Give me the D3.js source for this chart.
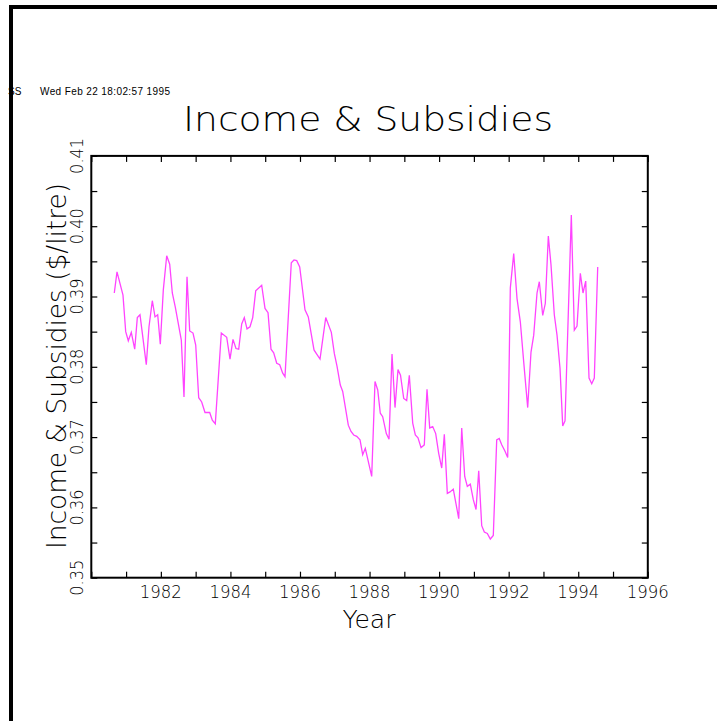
<!DOCTYPE html>
<html><head><meta charset="utf-8">
<script src="https://cdn.jsdelivr.net/npm/d3@7"></script>
<style>body{margin:0;background:#fff}svg{display:block}</style>
</head><body>
<svg id="c" width="717" height="721"></svg>
<script>
// ---- data ----
const years = [1980.661,1980.739,1980.911,1980.989,1981.064,1981.150,1981.248,1981.323,1981.400,1981.581,
1981.659,1981.754,1981.832,1981.909,1981.984,1982.070,1982.168,1982.254,1982.329,1982.415,
1982.588,1982.665,1982.752,1982.829,1982.924,1983.002,1983.088,1983.174,1983.269,1983.404,
1983.479,1983.565,1983.738,1983.893,1983.988,1984.074,1984.160,1984.238,1984.324,1984.399,
1984.477,1984.563,1984.641,1984.727,1984.899,1984.994,1985.081,1985.167,1985.244,1985.331,
1985.417,1985.503,1985.569,1985.750,1985.828,1985.906,1985.992,1986.144,1986.239,1986.403,
1986.481,1986.576,1986.740,1986.901,1986.987,1987.064,1987.159,1987.228,1987.389,1987.467,
1987.545,1987.631,1987.726,1987.803,1987.878,1988.062,1988.157,1988.235,1988.309,1988.378,
1988.482,1988.560,1988.646,1988.732,1988.818,1988.890,1988.982,1989.068,1989.143,1989.241,
1989.316,1989.393,1989.480,1989.574,1989.652,1989.730,1989.816,1989.902,1989.988,1990.075,
1990.150,1990.236,1990.313,1990.408,1990.486,1990.564,1990.650,1990.736,1990.811,1990.897,
1990.983,1991.061,1991.139,1991.225,1991.300,1991.386,1991.472,1991.558,1991.656,1991.728,
1991.800,1991.895,1991.972,1992.047,1992.145,1992.240,1992.335,1992.432,1992.547,1992.642,
1992.720,1992.815,1992.881,1992.979,1993.053,1993.140,1993.217,1993.312,1993.390,1993.476,
1993.554,1993.620,1993.801,1993.887,1993.965,1994.060,1994.137,1994.215,1994.310,1994.388,
1994.462,1994.560];
const values = [0.3905,0.3935,0.3902,0.3850,0.3837,0.3849,0.3825,0.3870,0.3874,0.3803,
0.3857,0.3894,0.3871,0.3874,0.3832,0.3909,0.3958,0.3946,0.3905,0.3885,
0.3838,0.3757,0.3928,0.3851,0.3848,0.3831,0.3756,0.3750,0.3735,0.3735,
0.3724,0.3719,0.3848,0.3842,0.3811,0.3839,0.3826,0.3825,0.3861,0.3870,
0.3854,0.3857,0.3870,0.3908,0.3916,0.3883,0.3877,0.3825,0.3820,0.3805,
0.3803,0.3791,0.3786,0.3948,0.3952,0.3951,0.3942,0.3881,0.3871,0.3824,
0.3818,0.3811,0.3870,0.3849,0.3819,0.3801,0.3774,0.3765,0.3717,0.3708,
0.3703,0.3701,0.3696,0.3675,0.3684,0.3644,0.3779,0.3767,0.3734,0.3729,
0.3705,0.3697,0.3818,0.3742,0.3796,0.3788,0.3755,0.3752,0.3788,0.3720,
0.3703,0.3699,0.3685,0.3689,0.3768,0.3713,0.3715,0.3705,0.3677,0.3656,
0.3704,0.3620,0.3622,0.3626,0.3605,0.3584,0.3713,0.3644,0.3630,0.3633,
0.3611,0.3597,0.3652,0.3574,0.3565,0.3563,0.3555,0.3560,0.3696,0.3698,
0.3689,0.3680,0.3671,0.3912,0.3961,0.3897,0.3864,0.3807,0.3742,0.3821,
0.3845,0.3905,0.3921,0.3873,0.3890,0.3986,0.3945,0.3874,0.3845,0.3798,
0.3716,0.3723,0.4016,0.3852,0.3858,0.3933,0.3905,0.3922,0.3784,0.3776,
0.3784,0.3942];
const xTicks = [1980,1981,1982,1983,1984,1985,1986,1987,1988,1989,1990,1991,1992,1993,1994,1995,1996];
const xLabels = [1982,1984,1986,1988,1990,1992,1994,1996];
const yTicks = [0.35,0.355,0.36,0.365,0.37,0.375,0.38,0.385,0.39,0.395,0.40,0.405,0.41];
const yLabels = ["0.35","0.36","0.37","0.38","0.39","0.40","0.41"];
const titleText = "Income & Subsidies";
const xTitle = "Year";
const yTitle = "Income & Subsidies ($/litre)";
const stamp = "Wed Feb 22 18:02:57 1995";

// ---- drawing ----
const svg = d3.select("#c");
const FONT = "'DejaVu Sans', sans-serif";
const L = 91.3, R = 647.8, T = 155.9, B = 577.7;
const x = d3.scaleLinear().domain([1980, 1996]).range([L, R]);
const y = d3.scaleLinear().domain([0.35, 0.41]).range([B, T]);

svg.append("rect").attr("width",717).attr("height",721).attr("fill","#fff");

// header stamp
svg.append("text").attr("x",8).attr("y",95).attr("font-family","'Liberation Sans', Arial, sans-serif")
  .attr("font-size",10).attr("fill","#000").text("SS");
svg.append("text").attr("x",40).attr("y",95).attr("font-family","'Liberation Sans', Arial, sans-serif")
  .attr("font-size",10).attr("fill","#000").attr("textLength",130).text(stamp);

// outer frame lines
svg.append("rect").attr("x",9).attr("y",5).attr("width",708).attr("height",4).attr("fill","#000");
svg.append("rect").attr("x",9).attr("y",5).attr("width",4).attr("height",716).attr("fill","#000");

// ticks (inward, all four sides)
const tickLen = 6;
const axB = svg.append("g").attr("transform",`translate(0,${B})`)
  .call(d3.axisBottom(x).tickValues(xTicks).tickSize(-tickLen).tickFormat(""));
const axT = svg.append("g").attr("transform",`translate(0,${T})`)
  .call(d3.axisTop(x).tickValues(xTicks).tickSize(-tickLen).tickFormat(""));
const axL = svg.append("g").attr("transform",`translate(${L},0)`)
  .call(d3.axisLeft(y).tickValues(yTicks).tickSize(-tickLen).tickFormat(""));
const axR = svg.append("g").attr("transform",`translate(${R},0)`)
  .call(d3.axisRight(y).tickValues(yTicks).tickSize(-tickLen).tickFormat(""));
[axB,axT,axL,axR].forEach(g=>{
  g.select(".domain").remove();
  g.selectAll(".tick line").attr("stroke","#000").attr("stroke-width",1.2);
});

// x tick labels
svg.append("g").selectAll("text").data(xLabels).join("text")
  .attr("x",d=>x(d)).attr("y",598).attr("text-anchor","middle")
  .attr("font-family",FONT).attr("font-weight",200).attr("font-size",17)
  .attr("textLength",42).attr("lengthAdjust","spacingAndGlyphs")
  .attr("fill","#000").text(d=>d);

// y tick labels (rotated)
svg.append("g").selectAll("text").data(yLabels).join("text")
  .attr("transform",d=>`translate(83,${y(+d)}) rotate(-90)`)
  .attr("text-anchor","middle")
  .attr("font-family",FONT).attr("font-weight",200).attr("font-size",17)
  .attr("textLength",36).attr("lengthAdjust","spacingAndGlyphs")
  .attr("fill","#000").text(d=>d);

// line
const line = d3.line().x((d,i)=>x(years[i])).y(d=>y(d));
svg.append("path").datum(values).attr("d",line)
  .attr("fill","none").attr("stroke","#ff44ff").attr("stroke-width",1.3)
  .attr("stroke-linejoin","miter");

// plot frame
svg.append("rect").attr("x",L).attr("y",T).attr("width",R-L).attr("height",B-T)
  .attr("fill","none").attr("stroke","#000").attr("stroke-width",2);

// titles
svg.append("text").attr("x",368).attr("y",131).attr("text-anchor","middle")
  .attr("font-family",FONT).attr("font-weight",200).attr("font-size",34)
  .attr("textLength",370).attr("lengthAdjust","spacingAndGlyphs").attr("fill","#000").text(titleText);
svg.append("text").attr("x",369).attr("y",628).attr("text-anchor","middle")
  .attr("font-family",FONT).attr("font-weight",200).attr("font-size",25)
  .attr("textLength",53).attr("lengthAdjust","spacingAndGlyphs").attr("fill","#000").text(xTitle);
svg.append("text").attr("transform","translate(66,366) rotate(-90)").attr("text-anchor","middle")
  .attr("font-family",FONT).attr("font-weight",200).attr("font-size",27)
  .attr("textLength",366).attr("lengthAdjust","spacingAndGlyphs").attr("fill","#000").text(yTitle);
</script>
</body></html>
